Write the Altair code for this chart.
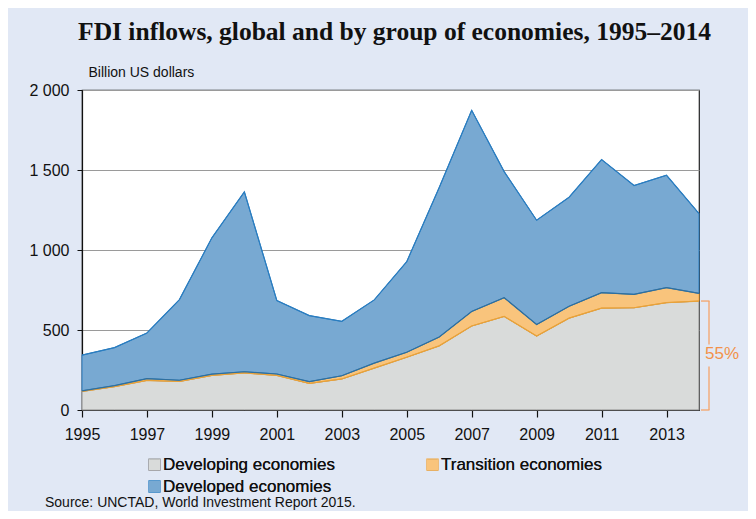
import altair as alt
import pandas as pd

years = list(range(1995, 2015))
developing = [116, 146, 185, 178, 216, 232, 216, 166, 194, 262, 330, 401, 525, 585, 462, 574, 637, 639, 671, 681]
transition = [4, 6, 11, 8, 8, 7, 9, 11, 20, 31, 31, 55, 91, 117, 72, 74, 96, 84, 94, 48]
total = [343, 390, 481, 690, 1076, 1363, 684, 590, 554, 688, 927, 1390, 1873, 1490, 1186, 1330, 1565, 1403, 1467, 1228]
developed = [t - d - r for t, d, r in zip(total, developing, transition)]

series = ["Developing economies", "Transition economies", "Developed economies"]
fills = ["#d9dbda", "#f9c47c", "#78a9d2"]
edges = ["#e8a23a", "#2f6f9e", "#2a7dc0"]
legend_strokes = ["#8c8c8c", "#f0a43a", "#2a7dc0"]

title_text = "FDI inflows, global and by group of economies, 1995–2014"
unit_text = "Billion US dollars"
source_text = "Source: UNCTAD, World Investment Report 2015."
share_text = "55%"

rows = []
for i, y in enumerate(years):
    base = 0
    for name, vals in zip(series, [developing, transition, developed]):
        rows.append({"year": y, "series": name, "y0": base, "y1": base + vals[i]})
        base += vals[i]
df = pd.DataFrame(rows)

W, H = 617, 320
xscale = alt.Scale(domain=[1995, 2014], nice=False, zero=False)
yscale = alt.Scale(domain=[0, 2000], nice=False)

leg = alt.Legend(
    title=None, orient="none", legendX=64, legendY=366, direction="horizontal",
    columns=2, symbolType="square", symbolSize=121, symbolStrokeWidth=1.3,
    labelFont="Liberation Sans", labelFontSize=17, labelColor="#111",
    labelLimit=300, columnPadding=89, rowPadding=4, symbolOffset=0, labelOffset=0,
    values=series,
)

areas = alt.Chart(df).mark_area(opacity=1, strokeWidth=1).encode(
    x=alt.X(
        "year:Q", scale=xscale, title=None,
        axis=alt.Axis(values=years, labelExpr="datum.value % 2 == 1 ? datum.value : ''",
                      grid=False, tickSize=7, tickColor="#111", domainColor="#111",
                      labelFont="Liberation Sans", labelFontSize=16, labelColor="#111",
                      labelPadding=9, labelFlush=False, domainWidth=1.2, tickWidth=1.2),
    ),
    y=alt.Y(
        "y1:Q", scale=yscale, stack=None,
        axis=alt.Axis(values=[0, 500, 1000, 1500, 2000],
                      labelExpr="replace(format(datum.value, ','), ',', ' ')",
                      title=unit_text, titleAngle=0, titleX=6, titleY=-18,
                      titleAlign="left", titleBaseline="middle",
                      titleFont="Liberation Sans", titleFontSize=14,
                      titleFontWeight="normal", titleColor="#111",
                      grid=True, gridColor="#9a9a9a", gridWidth=1,
                      tickSize=5, tickColor="#111", domainColor="#111",
                      labelFont="Liberation Sans", labelFontSize=16, labelColor="#111",
                      labelPadding=8, domainWidth=1.2),
    ),
    y2="y0:Q",
    color=alt.Color("series:N", scale=alt.Scale(domain=series, range=fills), legend=leg),
    stroke=alt.Stroke("series:N", scale=alt.Scale(domain=series, range=legend_strokes), legend=leg),
)

lines = alt.Chart(df).mark_line(strokeWidth=1.2).encode(
    x=alt.X("year:Q", scale=xscale),
    y=alt.Y("y1:Q", scale=yscale, stack=None),
    color=alt.Color("series:N", scale=alt.Scale(domain=series, range=edges), legend=None),
    detail="series:N",
)

share = pd.DataFrame({
    "lo": [0, 0.6 * developing[-1], 0, developing[-1]],
    "hi": [0.4 * developing[-1], developing[-1], 0, developing[-1]],
    "kind": ["v", "v", "h", "h"],
})
orange = "#f2924a"
bracket_v = alt.Chart(share[share.kind == "v"]).mark_rule(color="#f4a46a", strokeWidth=1.3).encode(
    x=alt.value(W + 10), y=alt.Y("lo:Q", scale=yscale), y2="hi:Q"
)
bracket_h = alt.Chart(share[share.kind == "h"]).mark_rule(color="#f4a46a", strokeWidth=1.3).encode(
    x=alt.value(W + 2), x2=alt.value(W + 10.5), y=alt.Y("lo:Q", scale=yscale)
)
share_label = alt.Chart(pd.DataFrame({"t": [share_text], "v": [developing[-1] / 2]})).mark_text(
    font="Liberation Sans", fontSize=17, color=orange, align="center", baseline="middle", dy=-2
).encode(text="t:N", x=alt.value(W + 23), y=alt.Y("v:Q", scale=yscale))

source = alt.Chart(pd.DataFrame({"t": [source_text]})).mark_text(
    font="Liberation Sans", fontSize=14, color="#111", align="left", baseline="alphabetic"
).encode(text="t:N", x=alt.value(-37), y=alt.value(417))

chart = alt.layer(areas, lines, bracket_v, bracket_h, share_label, source).resolve_scale(
    color="independent"
).properties(
    width=W, height=H,
    title=alt.TitleParams(title_text, font="Liberation Serif", fontSize=25.5, fontWeight="bold",
                          color="#111", anchor="middle", offset=20, dx=4),
    autosize=alt.AutoSizeParams(type="none"),
    padding={"left": 74, "top": 82, "right": 49, "bottom": 101},
    background="#e1e8f5",
).configure_view(stroke="#222", fill="white", strokeWidth=1.2)

chart.save("out.html", embed_options={"renderer": "svg", "actions": False})
